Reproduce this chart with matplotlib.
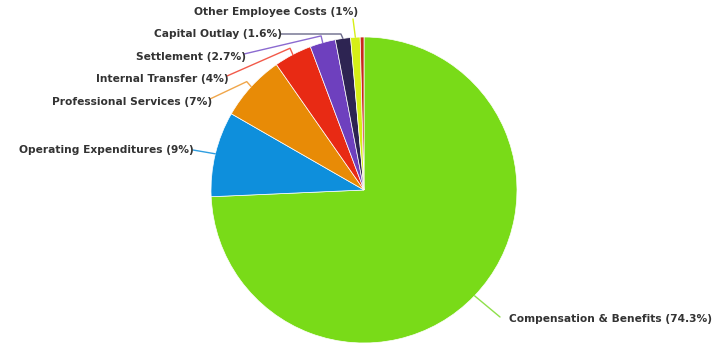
import numpy as np
import matplotlib
matplotlib.use("Agg")
import matplotlib.pyplot as plt

categories = ["Compensation & Benefits", "Operating Expenditures", "Professional Services",
              "Internal Transfer", "Settlement", "Capital Outlay", "Other Employee Costs", "Other"]
values = [74.3, 9, 7, 4, 2.7, 1.6, 1, 0.4]
pct_labels = ["74.3%", "9%", "7%", "4%", "2.7%", "1.6%", "1%", ""]
colors = ["#79db18", "#0e8fdc", "#e88b06", "#e82a14", "#6e40be", "#2d2452", "#d6ef17", "#c8281c"]
line_colors = ["#8ee04a", "#2f9ee0", "#f0a64a", "#f25a4a", "#8b6ad0", "#6b6a8a", "#d6ef17", "#c8281c"]

W, H = 719, 345
fig = plt.figure(figsize=(W / 100, H / 100), dpi=100)
ax = fig.add_axes([0, 0, 1, 1])

cx, cy, R = 364, H - 190, 153
wedges, _ = ax.pie(values, colors=colors, startangle=90, counterclock=False,
                   center=(cx, cy), radius=R, frame=True,
                   wedgeprops=dict(edgecolor="white", linewidth=0.5))
ax.set_xlim(0, W)
ax.set_ylim(0, H)
ax.set_aspect("equal")
ax.axis("off")

# label layout (image pixel coords: anchor point x, y; alignment)
label_pos = [(509, 319, "left"), (194, 150, "right"), (212, 102, "right"),
             (229, 79, "right"), (246, 57, "right"), (282, 34, "right"),
             (358, 12, "right"), None]

for w, cat, pct, lc, pos in zip(wedges, categories, pct_labels, line_colors, label_pos):
    if pos is None:
        continue
    mid = np.deg2rad((w.theta1 + w.theta2) / 2)
    ex, ey = cx + R * np.cos(mid), cy + R * np.sin(mid)
    ox, oy = cx + (R + 6) * np.cos(mid), cy + (R + 6) * np.sin(mid)
    lx, ly, ha = pos
    ly = H - ly
    if cat == "Other Employee Costs":
        xs, ys = [ex, 353], [ey, H - 19]
    elif cat == "Compensation & Benefits":
        xs, ys = [ex, lx - 9], [ey, ly + 2]
    elif cat == "Operating Expenditures":
        xs, ys = [ex, lx - 1], [ey, ly]
    elif cat == "Capital Outlay":
        xs, ys = [ex, ex - 2, lx - 1], [ey, ly, ly]
    else:
        xs, ys = [ex, ox, lx - 2], [ey, oy + 1, ly + 3]
    ax.plot(xs, ys, color=lc, lw=1, solid_capstyle="round")
    ax.text(lx, ly, f"{cat} ({pct})", ha=ha, va="center", fontsize=7.7,
            fontweight="bold", color="#333333", family="DejaVu Sans")

fig.savefig("out.png", dpi=100)
